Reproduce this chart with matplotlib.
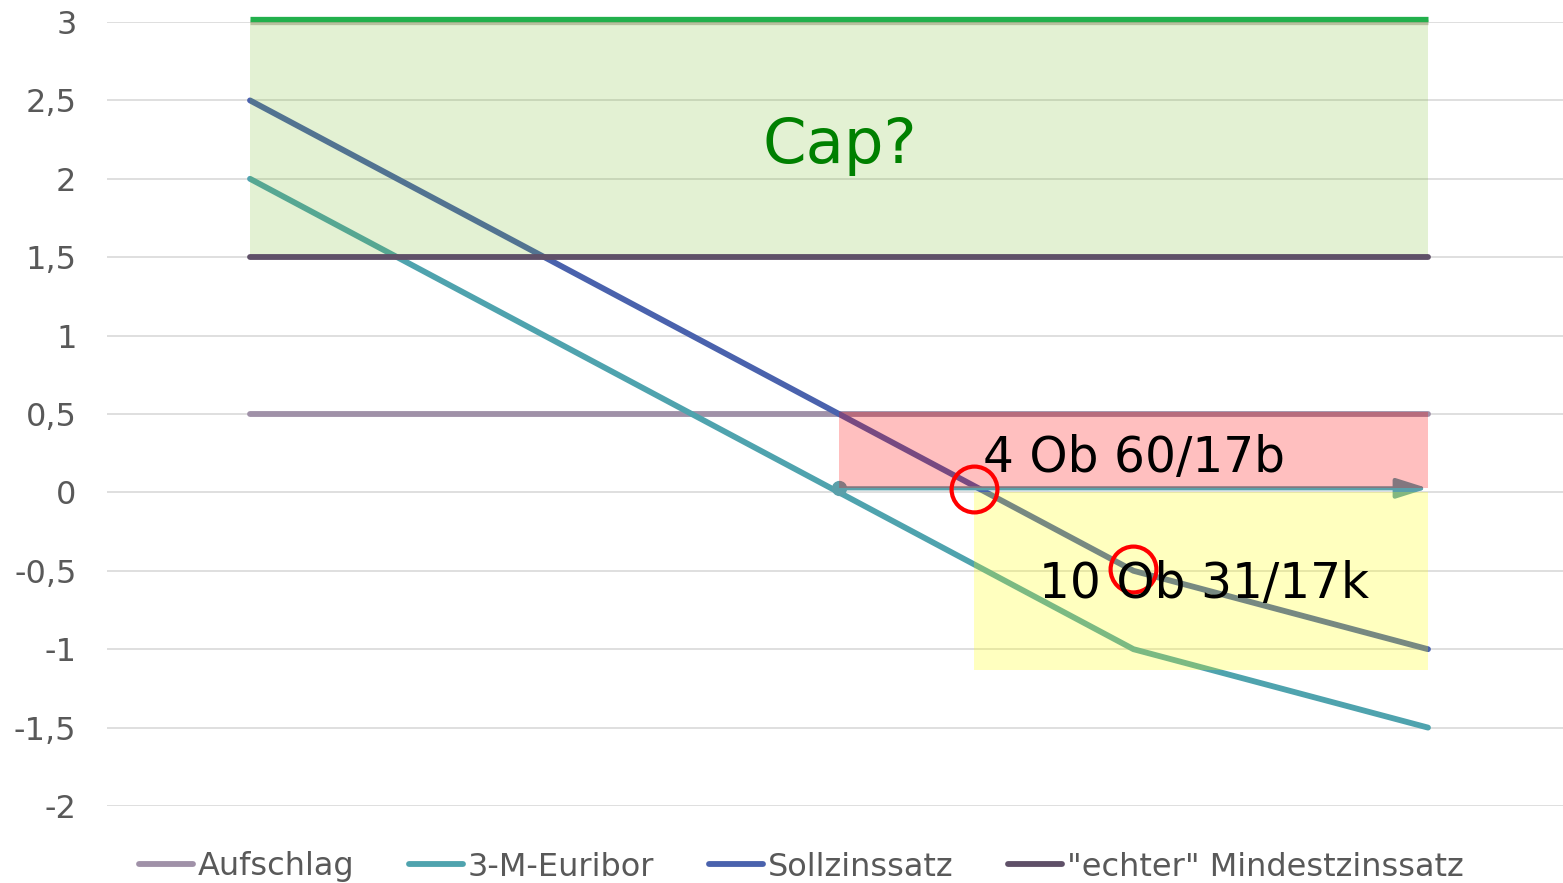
import matplotlib
matplotlib.use("Agg")
import matplotlib.pyplot as plt
import matplotlib.patheffects as pe
from matplotlib.patches import Rectangle

# ---- data ----
x_points = [0, 1, 2, 3, 4]
aufschlag = [0.5, 0.5, 0.5, 0.5, 0.5]
euribor = [2.0, 1.0, 0.0, -1.0, -1.5]
sollzins = [2.5, 1.5, 0.5, -0.5, -1.0]
mindestzins = [1.5, 1.5, 1.5, 1.5, 1.5]
series_names = ["Aufschlag", "3-M-Euribor", "Sollzinssatz", "\"echter\" Mindestzinssatz"]

y_ticks = [-2, -1.5, -1, -0.5, 0, 0.5, 1, 1.5, 2, 2.5, 3]
y_ticklabels = ["-2", "-1,5", "-1", "-0,5", "0", "0,5", "1", "1,5", "2", "2,5", "3"]

cap_level = 3.02
cap_zone = (0, 4, 1.5, 3.0)           # x0, x1, y0, y1
red_zone = (2, 4, 0.026, 0.515)
yellow_zone = (2.46, 4, -1.13, 0.0)
arrow_from = (2, 0.026)
arrow_to = (4.0, 0.026)
circles_x = [2.46, 3.0]
circles_y = [0.02, -0.49]

annotations = [
    ("Cap?", 1.74, 2.10, 45, "#008000"),
    ("4 Ob 60/17b", 2.49, 0.128, 35, "black"),
    ("10 Ob 31/17k", 2.68, -0.676, 35, "black"),
]

colors = ["#A091A8", "#4FA3AE", "#4A62AD", "#5F5068"]

# ---- figure ----
W, H = 1563, 883
fig = plt.figure(figsize=(W / 100, H / 100), dpi=100)
ax = fig.add_axes([107 / W, (H - 806) / H, (W - 107) / W, 784 / H])
ax.set_xlim((107 - 250) / 294.5, (1563 - 250) / 294.5)
ax.set_ylim(-2, 3)

for s in ax.spines.values():
    s.set_visible(False)
ax.set_xticks([])
ax.set_yticks(y_ticks)
ax.set_yticklabels(y_ticklabels, fontsize=23, color="#595959")
ax.tick_params(axis="y", length=0, pad=22)
ax.grid(axis="y", color="#D9D9D9", lw=1.2, zorder=0)
ax.set_axisbelow(True)

lw = 4.2
zorders = [2, 2, 2, 4]
for vals, c, name, z in zip([aufschlag, euribor, sollzins, mindestzins], colors, series_names, zorders):
    ax.plot(x_points, vals, color=c, lw=lw, label=name, zorder=z, solid_capstyle="round")

# arrow (below overlays)
ax.annotate("", xy=arrow_to, xytext=arrow_from,
            arrowprops=dict(arrowstyle="-|>,head_length=0.95,head_width=0.3", color="#5AA0AA", lw=3,
                            mutation_scale=20, shrinkA=0, shrinkB=0), zorder=2.5)
ax.plot([arrow_from[0]], [arrow_from[1]], "o", color="#5AA0AA", ms=10, zorder=2.5)

# overlays
x0, x1, y0, y1 = cap_zone
ax.add_patch(Rectangle((x0, y0), x1 - x0, y1 - y0, facecolor="#73B923", alpha=0.2, lw=0, zorder=3))
x0, x1, y0, y1 = red_zone
ax.add_patch(Rectangle((x0, y0), x1 - x0, y1 - y0, facecolor="#FF0000", alpha=0.25, lw=0, zorder=3))
x0, x1, y0, y1 = yellow_zone
ax.add_patch(Rectangle((x0, y0), x1 - x0, y1 - y0, facecolor="#FFFF00", alpha=0.25, lw=0, zorder=3))

ax.plot([cap_zone[0], cap_zone[1]], [cap_level, cap_level], color="#22B04C", lw=3.8, zorder=4,
        clip_on=False, solid_capstyle="butt",
        path_effects=[pe.SimpleLineShadow(offset=(0, -2.5), shadow_color="#6a6a40", alpha=0.35),
                      pe.Normal()])

# circles
ax.plot(circles_x, circles_y, "o", mfc="none", mec="#FF0000", mew=3, ms=33, zorder=6)

for txt, tx, ty, fs, c in annotations:
    ax.text(tx, ty, txt, fontsize=fs, color=c, ha="left", va="baseline", zorder=7)

leg = fig.legend(loc="center", bbox_to_anchor=(801 / W, (H - 867) / H), ncol=4, frameon=False,
                 fontsize=23, handlelength=1.7, handletextpad=0.15, columnspacing=1.7,
                 borderpad=0, borderaxespad=0)
for t in leg.get_texts():
    t.set_color("#595959")

fig.savefig("out.png", dpi=100)
